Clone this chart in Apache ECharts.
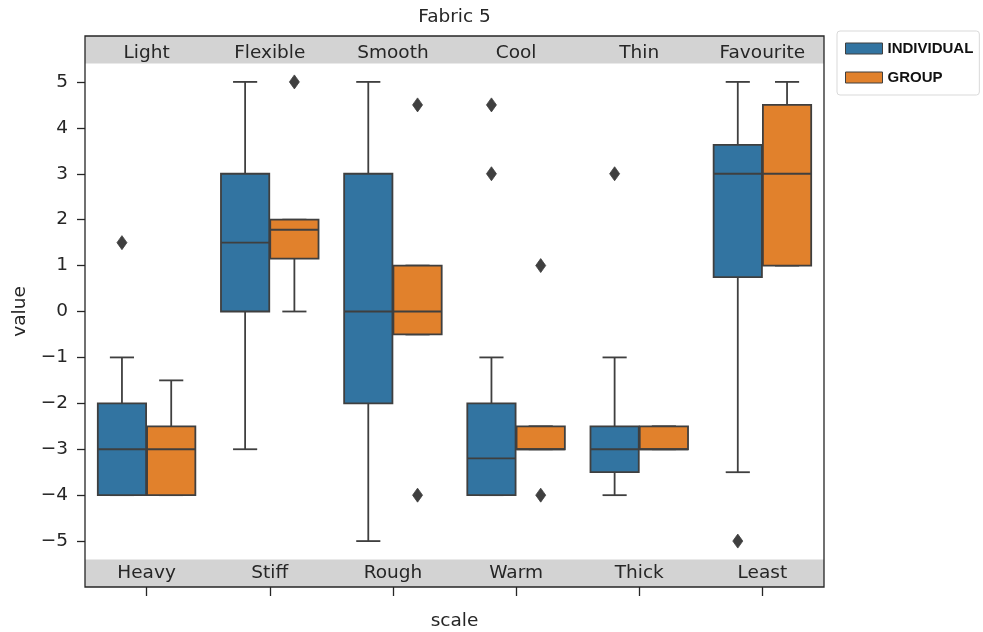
<!DOCTYPE html>
<html>
<head>
<meta charset="utf-8">
<script src="https://cdn.jsdelivr.net/npm/echarts@6/dist/echarts.min.js"></script>
<style>
html,body{margin:0;padding:0;background:#fff;}
#chart{width:983px;height:632px;}
</style>
</head>
<body>
<div id="chart"></div>
<script>
// ---- data ----
const categoriesTop = ['Light', 'Flexible', 'Smooth', 'Cool', 'Thin', 'Favourite'];
const categoriesBottom = ['Heavy', 'Stiff', 'Rough', 'Warm', 'Thick', 'Least'];
const seriesNames = ['INDIVIDUAL', 'GROUP'];
// [lower whisker, Q1, median, Q3, upper whisker]
const individualStats = [
  [-4, -4, -3, -2, -1],
  [-3, 0, 1.5, 3, 5],
  [-5, -2, 0, 3, 5],
  [-4, -4, -3.2, -2, -1],
  [-4, -3.5, -3, -2.5, -1],
  [-3.5, 0.75, 3, 3.63, 5]
];
const groupStats = [
  [-4, -4, -3, -2.5, -1.5],
  [0, 1.15, 1.78, 2, 2],
  [-0.5, -0.5, 0, 1, 1],
  [-3, -3, -3, -2.5, -2.5],
  [-3, -3, -3, -2.5, -2.5],
  [1, 1, 3, 4.5, 5]
];
// [category index, value]
const individualOutliers = [[0, 1.5], [3, 4.5], [3, 3], [4, 3], [5, -5]];
const groupOutliers = [[1, 5], [2, 4.5], [2, -4], [3, 1], [3, -4]];
const yTicks = [-5, -4, -3, -2, -1, 0, 1, 2, 3, 4, 5];
const bandRanges = [[5.4, 6], [-6, -5.4]];

// ---- styles ----
const FONT = 'DejaVu Sans';
const FS = 18.5;
const TXT = '#262626';
const EDGE = '#3f3f3f';
const LW = 1.8;
const COLORS = ['#3274a1', '#e1812c'];

function boxRenderer(hue, fill) {
  return function (params, api) {
    const cat = api.value(0);
    const bw = api.size([1, 0])[0];
    const xc = api.coord([cat, 0])[0] + (hue === 0 ? -0.2 : 0.2) * bw;
    const half = 0.196 * bw;
    const cap = half / 2;
    const y = i => api.coord([cat, api.value(i)])[1];
    const yLow = y(1), yQ1 = y(2), yMed = y(3), yQ3 = y(4), yHigh = y(5);
    const ls = { stroke: EDGE, lineWidth: LW, fill: null };
    return {
      type: 'group',
      children: [
        { type: 'line', shape: { x1: xc, y1: yQ1, x2: xc, y2: yLow }, style: ls },
        { type: 'line', shape: { x1: xc, y1: yQ3, x2: xc, y2: yHigh }, style: ls },
        { type: 'line', shape: { x1: xc - cap, y1: yLow, x2: xc + cap, y2: yLow }, style: ls },
        { type: 'line', shape: { x1: xc - cap, y1: yHigh, x2: xc + cap, y2: yHigh }, style: ls },
        { type: 'rect', shape: { x: xc - half, y: yQ3, width: 2 * half, height: yQ1 - yQ3 },
          style: { fill: fill, stroke: EDGE, lineWidth: LW } },
        { type: 'line', shape: { x1: xc - half, y1: yMed, x2: xc + half, y2: yMed }, style: ls }
      ]
    };
  };
}

function outlierRenderer(hue) {
  return function (params, api) {
    const cat = api.value(0);
    const bw = api.size([1, 0])[0];
    const p = api.coord([cat, api.value(1)]);
    const x = p[0] + (hue === 0 ? -0.2 : 0.2) * bw;
    const y = p[1];
    return {
      type: 'polygon',
      shape: { points: [[x, y - 7], [x + 5, y], [x, y + 7], [x - 5, y]] },
      style: { fill: EDGE, stroke: EDGE, lineWidth: 0.8 }
    };
  };
}

const chart = echarts.init(document.getElementById('chart'), null, { renderer: 'canvas' });
const option = {
  animation: false,
  textStyle: { fontFamily: FONT },
  grid: { left: 85, right: 159, top: 36, bottom: 45, show: true, borderColor: '#262626', borderWidth: 1.3,
    backgroundColor: 'transparent', z: 6, containLabel: false, outerBoundsMode: 'none' },
  graphic: [{
    type: 'text', x: 454.5, y: 17.5, z: 10,
    style: { text: 'Fabric 5', align: 'center', verticalAlign: 'middle', fontFamily: FONT, fontSize: FS, fill: TXT }
  }],
  legend: {
    orient: 'vertical', left: 837, top: 31,
    padding: [10, 6, 10, 8], itemGap: 14, itemWidth: 37, itemHeight: 11,
    borderColor: '#d9d9d9', borderWidth: 1, borderRadius: 3,
    textStyle: { fontFamily: 'Liberation Sans', fontWeight: 'bold', fontSize: 15, color: '#111', lineHeight: 15 },
    data: seriesNames.map((n, i) => ({ name: n, icon: 'rect', itemStyle: { color: COLORS[i], borderColor: EDGE, borderWidth: 1 } }))
  },
  xAxis: [{
    type: 'category', position: 'bottom', data: categoriesBottom, boundaryGap: true, z: 5,
    axisLine: { show: false, onZero: false },
    axisTick: { show: true, alignWithLabel: true, length: 9, lineStyle: { color: '#262626', width: 1.3 } },
    axisLabel: { inside: true, margin: 4, fontSize: FS, color: TXT, fontFamily: FONT },
    splitLine: { show: false },
    name: 'scale', nameLocation: 'middle', nameGap: 25,
    nameTextStyle: { fontSize: FS, color: TXT, fontFamily: FONT }
  }, {
    type: 'category', position: 'top', data: categoriesTop, boundaryGap: true, z: 5,
    axisLine: { show: false, onZero: false }, axisTick: { show: false },
    axisLabel: { inside: true, margin: 8, fontSize: FS, color: TXT, fontFamily: FONT },
    splitLine: { show: false }
  }],
  yAxis: {
    type: 'value', min: -6, max: 6, interval: 1, z: 5,
    axisLine: { show: false, onZero: false },
    axisTick: { show: true, length: 8, customValues: yTicks, lineStyle: { color: '#262626', width: 1.3 } },
    axisLabel: { customValues: yTicks, margin: 17, fontSize: FS, color: TXT, fontFamily: FONT,
      padding: [3, 0, 0, 0],
      formatter: v => (v < 0 ? '\u2212' + Math.abs(v) : String(v)) },
    splitLine: { show: false },
    name: 'value', nameLocation: 'middle', nameGap: 51,
    nameTextStyle: { fontSize: FS, color: TXT, fontFamily: FONT }
  },
  series: [
    {
      name: 'bands', type: 'scatter', data: [], silent: true,
      markArea: { silent: true, itemStyle: { color: '#d3d3d3' },
        data: bandRanges.map(r => [{ yAxis: r[0] }, { yAxis: r[1] }]) }
    },
    {
      name: seriesNames[0], type: 'custom', xAxisIndex: 0, itemStyle: { color: COLORS[0] },
      renderItem: boxRenderer(0, COLORS[0]),
      encode: { x: 0, y: [1, 2, 3, 4, 5] },
      data: individualStats.map((s, i) => [i].concat(s)), z: 3
    },
    {
      name: seriesNames[1], type: 'custom', xAxisIndex: 0, itemStyle: { color: COLORS[1] },
      renderItem: boxRenderer(1, COLORS[1]),
      encode: { x: 0, y: [1, 2, 3, 4, 5] },
      data: groupStats.map((s, i) => [i].concat(s)), z: 3
    },
    {
      name: 'individual outliers', type: 'custom', xAxisIndex: 0,
      renderItem: outlierRenderer(0), encode: { x: 0, y: 1 },
      data: individualOutliers, z: 4
    },
    {
      name: 'group outliers', type: 'custom', xAxisIndex: 0,
      renderItem: outlierRenderer(1), encode: { x: 0, y: 1 },
      data: groupOutliers, z: 4
    }
  ]
};
chart.setOption(option);
</script>
</body>
</html>
